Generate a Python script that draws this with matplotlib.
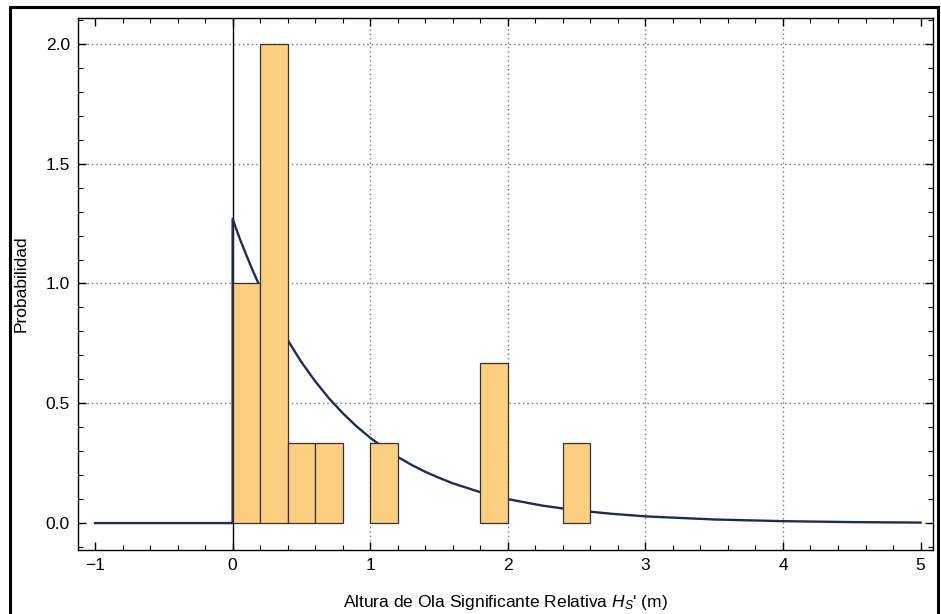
import matplotlib
matplotlib.use("Agg")
import matplotlib.pyplot as plt
from matplotlib.ticker import MultipleLocator, FormatStrFormatter
from matplotlib.patches import Rectangle

plt.rcParams['font.family'] = ['Liberation Sans', 'DejaVu Sans']
plt.rcParams['mathtext.fontset'] = 'custom'
plt.rcParams['mathtext.it'] = 'Liberation Sans:italic'
plt.rcParams['mathtext.rm'] = 'Liberation Sans'

# histogram bins (left edge, width) and heights
bin_left = [0.0, 0.2, 0.4, 0.6, 1.0, 1.8, 2.4]
bin_width = [0.2, 0.2, 0.2, 0.2, 0.2, 0.2, 0.2]
bin_height = [1.0, 2.0, 0.333, 0.333, 0.333, 0.667, 0.333]

# fitted density curve
curve_x = [-1.0, 0.0, 0.0, 0.05, 0.1, 0.15, 0.2, 0.25, 0.3, 0.4, 0.5, 0.6, 0.7,
           0.8, 0.9, 1.0, 1.1, 1.2, 1.3, 1.4, 1.5, 1.6, 1.8, 2.0, 2.25, 2.5,
           2.75, 3.0, 3.5, 4.0, 4.5, 5.0]
curve_y = [0.0, 0.0, 1.27, 1.19, 1.118, 1.049, 0.985, 0.925, 0.867, 0.764,
           0.672, 0.592, 0.521, 0.459, 0.404, 0.356, 0.314, 0.276, 0.243,
           0.214, 0.189, 0.166, 0.129, 0.100, 0.073, 0.053, 0.039, 0.028,
           0.015, 0.008, 0.004, 0.002]

x_grid = [1, 2, 3, 4]
y_grid = [0.5, 1.0, 1.5, 2.0]

fig = plt.figure(figsize=(9.41, 6.14), dpi=100)
ax = fig.add_axes([0.083, 0.104, 0.908, 0.867])

for gx in x_grid:
    ax.axvline(gx, color='#777777', lw=1.0, ls=(0, (1, 2.2)), zorder=1)
for gy in y_grid:
    ax.axhline(gy, color='#777777', lw=1.0, ls=(0, (1, 2.2)), zorder=1)
ax.axvline(0, color='black', lw=1.0, zorder=1.5)

ax.plot(curve_x, curve_y, color='#1f2d55', lw=1.7, zorder=2)
ax.bar(bin_left, bin_height, width=bin_width, align='edge',
       color='#fcce80', edgecolor='#333333', linewidth=0.9, zorder=3)

ax.set_xlim(-1.123, 5.087)
ax.set_ylim(-0.113, 2.109)

ax.xaxis.set_major_locator(MultipleLocator(1))
ax.xaxis.set_minor_locator(MultipleLocator(0.2))
ax.yaxis.set_major_locator(MultipleLocator(0.5))
ax.yaxis.set_minor_locator(MultipleLocator(0.1))
ax.yaxis.set_major_formatter(FormatStrFormatter('%.1f'))
ax.tick_params(which='both', direction='in', top=True, right=True,
               labelsize=12.5, color='black', pad=6)
ax.tick_params(which='major', length=6, width=1)
ax.tick_params(which='minor', length=3.5, width=0.8)
for s in ax.spines.values():
    s.set_linewidth(1.0)

ax.set_xlabel("Altura de Ola Significante Relativa $H_S$' (m)", fontsize=12.5, labelpad=14)
ax.set_ylabel("Probabilidad", fontsize=12.5, labelpad=12)

# outer border around the whole image
fig.patches.append(Rectangle((0.011, -0.01), 0.986, 0.999, transform=fig.transFigure,
                             fill=False, edgecolor='black', lw=2.2))

fig.savefig('out.png', dpi=100)
